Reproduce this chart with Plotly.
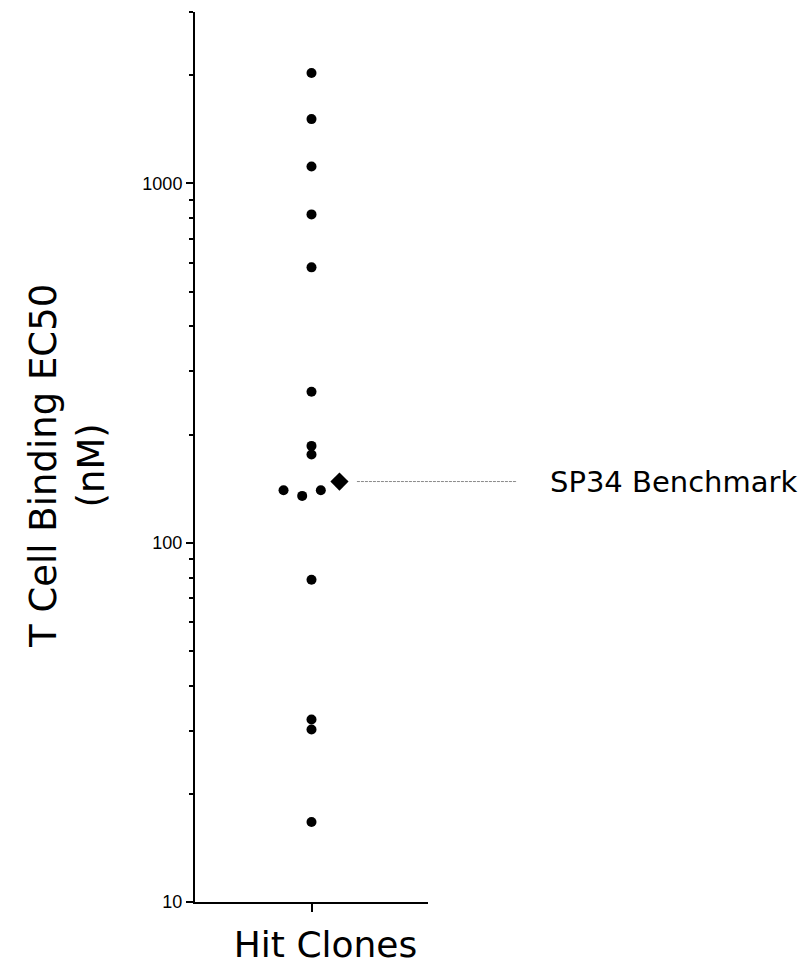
import numpy as np
import plotly.graph_objects as go

# T cell binding EC50 (nM) of the hit clones, in assay order
clone_ec50 = [2030, 1510, 1115, 820, 584, 263, 186, 176, 140, 135, 140, 78.9, 32.2, 30.2, 16.7]
benchmark_name = "SP34 Benchmark"
benchmark_ec50 = 148
column_label = "Hit Clones"

y_major = [10, 100, 1000]
y_minor = [20, 30, 40, 50, 60, 70, 80, 90,
           200, 300, 400, 500, 600, 700, 800, 900, 2000, 3000]
y_range = [1, np.log10(3000)]   # log10 units

# --- simple row-based swarm layout -------------------------------------
ROW_TOL = 0.02      # log10 units: points closer than this share a row
SPACING = 0.08      # horizontal spacing inside a row (x units)

logs = np.log10(clone_ec50)
order = np.argsort(logs, kind="stable")
rows = []
for i in order:
    if rows and logs[i] - logs[rows[-1][0]] < ROW_TOL:
        rows[-1].append(i)
    else:
        rows.append([i])
rows = [sorted(r) for r in rows]

# benchmark sits at the end of the nearest clone row
bench_log = np.log10(benchmark_ec50)
nearest = min(range(len(rows)),
              key=lambda k: abs(np.mean(logs[rows[k]]) - bench_log))

clone_x = np.zeros(len(clone_ec50))
bench_x = 0.0
for k, r in enumerate(rows):
    members = list(r) + (["bench"] if k == nearest else [])
    n = len(members)
    for j, m in enumerate(members):
        off = (j - (n - 1) / 2) * SPACING
        if m == "bench":
            bench_x = off
        else:
            clone_x[m] = off

fig = go.Figure()
fig.add_trace(go.Scatter(
    x=clone_x, y=clone_ec50, mode="markers",
    marker=dict(symbol="circle", size=10, color="black", line=dict(width=0)),
    showlegend=False, cliponaxis=False,
))
fig.add_trace(go.Scatter(
    x=[bench_x], y=[benchmark_ec50], mode="markers",
    marker=dict(symbol="diamond", size=14, color="black", line=dict(width=0)),
    showlegend=False, cliponaxis=False,
))

# leader line and label for the benchmark (paper coords so nothing is clipped)
bench_paper_y = (bench_log - y_range[0]) / (y_range[1] - y_range[0])
fig.add_shape(type="line", xref="paper", yref="paper",
              x0=0.695, x1=1.382, y0=bench_paper_y, y1=bench_paper_y,
              line=dict(color="#8a8a8a", width=1, dash="3px,1px"))
fig.add_annotation(xref="paper", yref="paper", x=1.515, y=bench_paper_y,
                   text=benchmark_name, showarrow=False,
                   xanchor="left", yanchor="middle",
                   font=dict(family="DejaVu Sans", size=29, color="black"))

# two-line y-axis title
fig.add_annotation(xref="paper", yref="paper", x=-0.545, y=0.49,
                   text="T Cell Binding EC50<br>(nM)", showarrow=False,
                   textangle=-90, xanchor="center", yanchor="middle",
                   font=dict(family="DejaVu Sans", size=37, color="black"))

fig.update_layout(
    width=807, height=972,
    margin=dict(l=195, r=379, t=12, b=70, autoexpand=False),
    paper_bgcolor="white", plot_bgcolor="white",
    showlegend=False,
)
fig.update_xaxes(
    range=[-0.5, 0.5], showgrid=False, zeroline=False, automargin=False,
    showline=True, linecolor="black", linewidth=2,
    ticks="outside", ticklen=8, tickwidth=2, tickcolor="black",
    tickvals=[0], ticktext=[column_label], ticklabelshift=14,
    ticklabelstandoff=2,
    tickfont=dict(family="DejaVu Sans", size=36, color="black"),
)
fig.update_yaxes(
    type="log", range=y_range,
    showgrid=False, zeroline=False, automargin=False,
    showline=True, linecolor="black", linewidth=2,
    ticks="outside", ticklen=7, tickwidth=2, tickcolor="black",
    tickvals=y_major, ticktext=[str(v) for v in y_major],
    tickfont=dict(family="Liberation Sans", size=18, color="black"),
    minor=dict(ticks="outside", ticklen=4, tickwidth=2, tickcolor="black",
               tickvals=y_minor, showgrid=False),
)

fig.write_html("out.html")
